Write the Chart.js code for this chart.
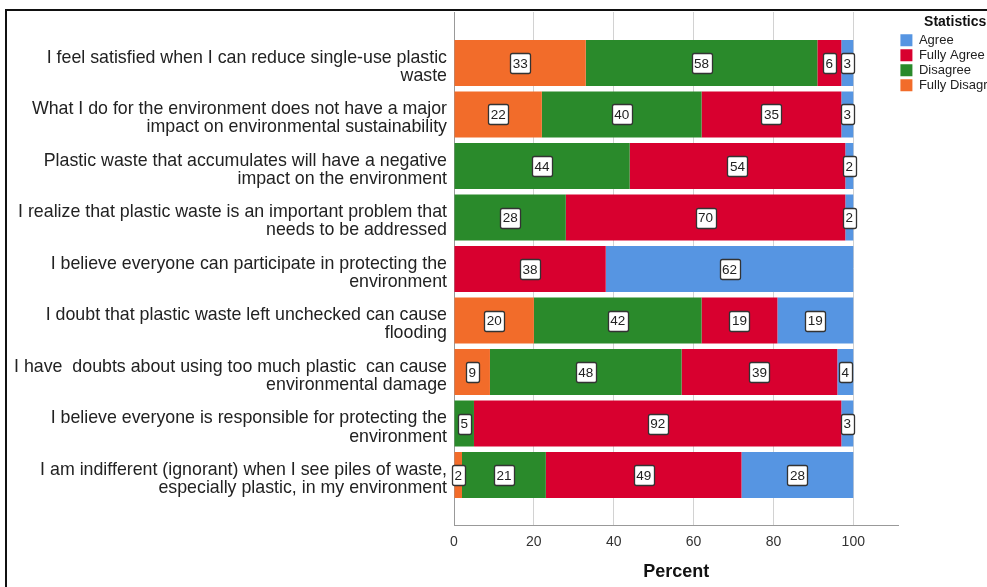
<!DOCTYPE html>
<html lang="en">

<head>
  <meta charset="UTF-8" />
  <title>Statistics</title>
  <script src="https://cdn.jsdelivr.net/npm/chart.js@4.4.1/dist/chart.umd.min.js"></script>
  <style>
    html, body {
      margin: 0;
      background: #fff;
      overflow: hidden;
      font-family: 'Liberation Sans', Arial, sans-serif;
    }

    .frame {
      position: absolute;
      left: 5px;
      top: 9px;
      width: 1100px;
      height: 700px;
      border: 2px solid #111;
    }

    .chart-box {
      position: absolute;
      left: 0;
      top: 0;
      width: 1012px;
      height: 587px;
    }
  </style>
</head>

<body>
  <div class="frame"></div>
  <div class="chart-box">
    <canvas id="surveyChart"></canvas>
  </div>

  <script>
    const categories = [
      ['I feel satisfied when I can reduce single-use plastic', 'waste'],
      ['What I do for the environment does not have a major', 'impact on environmental sustainability'],
      ['Plastic waste that accumulates will have a negative', 'impact on the environment'],
      ['I realize that plastic waste is an important problem that', 'needs to be addressed'],
      ['I believe everyone can participate in protecting the', 'environment'],
      ['I doubt that plastic waste left unchecked can cause', 'flooding'],
      ['I have  doubts about using too much plastic  can cause', 'environmental damage'],
      ['I believe everyone is responsible for protecting the', 'environment'],
      ['I am indifferent (ignorant) when I see piles of waste,', 'especially plastic, in my environment']
    ];

    // stacked left to right in this order
    const fullyDisagree = [33, 22, 0, 0, 0, 20, 9, 0, 2];
    const disagree = [58, 40, 44, 28, 0, 42, 48, 5, 21];
    const fullyAgree = [6, 35, 54, 70, 38, 19, 39, 92, 49];
    const agree = [3, 3, 2, 2, 62, 19, 4, 3, 28];

    const xTicks = [0, 20, 40, 60, 80, 100];

    const toPoints = vals => vals.map((v, i) => ({ x: v, y: i }));

    // white boxed value labels in the middle of each segment
    const boxLabels = {
      id: 'boxLabels',
      afterDatasetsDraw(chart) {
        const ctx = chart.ctx;
        ctx.save();
        ctx.font = '13.5px "Liberation Sans", Arial, sans-serif';
        ctx.textAlign = 'center';
        ctx.textBaseline = 'middle';
        chart.data.datasets.forEach((ds, di) => {
          const meta = chart.getDatasetMeta(di);
          meta.data.forEach((bar, i) => {
            const v = ds.data[i].x;
            if (!v) return;
            const cx = (bar.x + bar.base) / 2;
            const cy = bar.y;
            const text = String(v);
            const w = ctx.measureText(text).width + 5;
            const h = 20;
            ctx.fillStyle = '#fff';
            ctx.strokeStyle = '#333';
            ctx.lineWidth = 1.3;
            ctx.beginPath();
            ctx.roundRect(Math.round(cx - w / 2) + 0.5, Math.round(cy - h / 2) + 0.5, Math.round(w), h, 2);
            ctx.fill();
            ctx.stroke();
            ctx.fillStyle = '#222';
            ctx.fillText(text, cx, cy + 1);
          });
        });
        ctx.restore();
      }
    };

    new Chart(document.getElementById('surveyChart'), {
      type: 'bar',
      data: {
        datasets: [
          { label: 'Fully Disagree', data: toPoints(fullyDisagree), backgroundColor: '#f26c2a' },
          { label: 'Disagree', data: toPoints(disagree), backgroundColor: '#2a8a2b' },
          { label: 'Fully Agree', data: toPoints(fullyAgree), backgroundColor: '#d8002f' },
          { label: 'Agree', data: toPoints(agree), backgroundColor: '#5695e2' }
        ]
      },
      options: {
        indexAxis: 'y',
        responsive: true,
        maintainAspectRatio: false,
        animation: false,
        categoryPercentage: 1,
        barPercentage: 0.89,
        layout: { padding: { top: 12 } },
        plugins: {
          tooltip: { enabled: false },
          legend: {
            position: 'right',
            align: 'start',
            reverse: true,
            title: {
              display: true,
              text: 'Statistics',
              color: '#111',
              padding: { top: 3, bottom: 0 },
              font: { family: '"Liberation Sans", Arial, sans-serif', size: 14, weight: 'bold' }
            },
            labels: {
              boxWidth: 12,
              boxHeight: 12,
              padding: 2,
              color: '#222',
              font: { family: '"Liberation Sans", Arial, sans-serif', size: 13 }
            }
          }
        },
        scales: {
          x: {
            type: 'linear',
            stacked: true,
            min: 0,
            max: 111.3,
            afterBuildTicks: s => { s.ticks = xTicks.map(v => ({ value: v })); },
            afterFit: s => { s.height = 62; },
            grid: { color: '#d2d2d2', drawTicks: false },
            border: { color: '#999' },
            ticks: {
              padding: 9,
              color: '#333',
              font: { family: '"Liberation Sans", Arial, sans-serif', size: 14 }
            },
            title: {
              display: true,
              text: 'Percent',
              color: '#111',
              padding: { top: 4, bottom: 4 },
              font: { family: '"Liberation Sans", Arial, sans-serif', size: 18, weight: 'bold' }
            }
          },
          y: {
            type: 'linear',
            stacked: true,
            reverse: true,
            offset: false,
            min: -0.99,
            max: 8.97,
            afterBuildTicks: s => { s.ticks = categories.map((c, i) => ({ value: i })); },
            afterFit: s => {
              s.width = 454;
              s.paddingTop = 0;
              s.paddingBottom = 0;
            },
            grid: { display: false, drawTicks: false, offset: false },
            border: { color: '#999' },
            ticks: {
              autoSkip: false,
              padding: 7,
              labelOffset: 4,
              color: '#222',
              callback: v => categories[v],
              font: { family: '"Liberation Sans", Arial, sans-serif', size: 17.8, lineHeight: 1.02 }
            }
          }
        }
      },
      plugins: [boxLabels]
    });
  </script>
</body>

</html>
